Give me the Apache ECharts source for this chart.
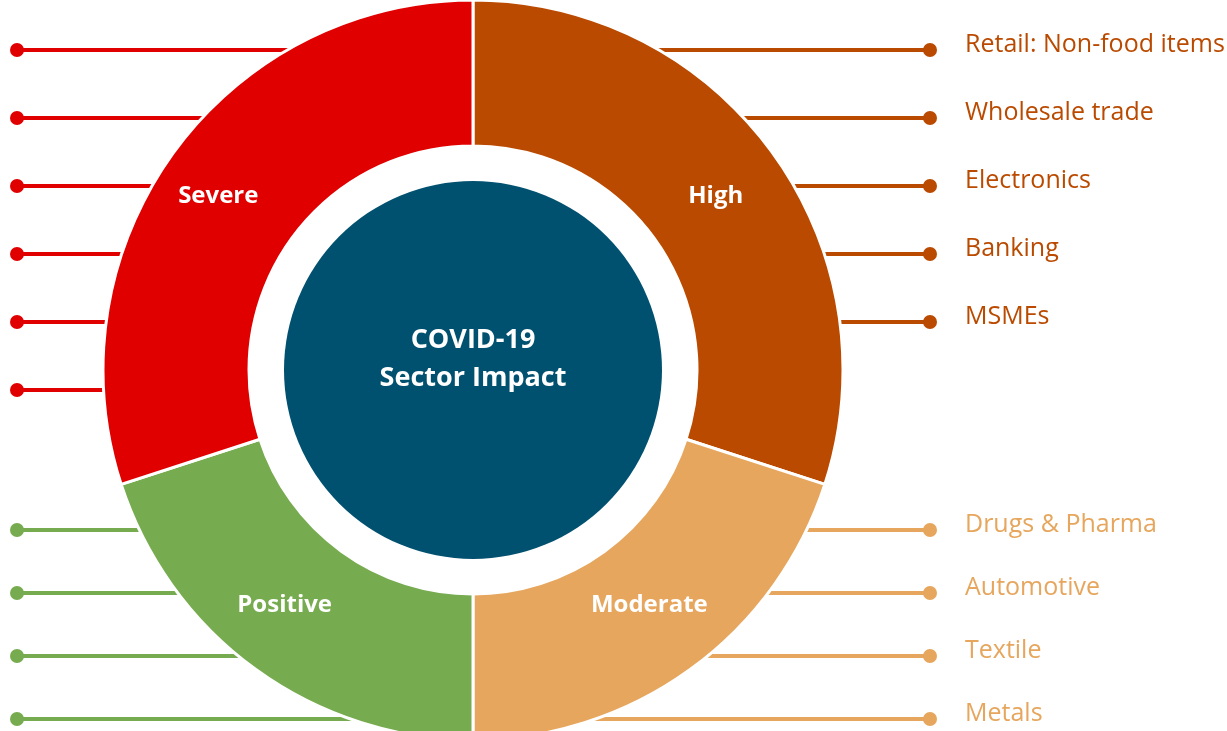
<!DOCTYPE html>
<html>
<head>
<meta charset="utf-8">
<script src="https://cdn.jsdelivr.net/npm/echarts@6/dist/echarts.min.js"></script>
<style>
html, body { margin: 0; padding: 0; background: #ffffff; }
#main { width: 1227px; height: 731px; }
</style>
</head>
<body>
<div id="main"></div>
<script>
// ---- data ----
const impactLevels = ['High', 'Moderate', 'Positive', 'Severe'];   // clockwise from 12 o'clock
const impactShare = [30, 20, 20, 30];                               // share of the ring
const highSectors = ['Retail: Non-food items', 'Wholesale trade', 'Electronics', 'Banking', 'MSMEs'];
const moderateSectors = ['Drugs & Pharma', 'Automotive', 'Textile', 'Metals'];
const severeSectors = ['', '', '', '', '', ''];   // six leaders, unlabeled in the source
const positiveSectors = ['', '', '', ''];         // four leaders, unlabeled in the source
const centerTitle = ['COVID-19', 'Sector Impact'];

// ---- style ----
const colors = { Severe: '#E00000', High: '#BA4A00', Moderate: '#E6A65D', Positive: '#77AB4F' };
const teal = '#00506F';
const FONT = 'Open Sans';
const CENTER = [473, 370];

const topRows = Math.max(severeSectors.length, highSectors.length);
const bottomRows = Math.max(positiveSectors.length, moderateSectors.length);
const rowNames = n => Array.from({ length: n }, (_, i) => String(i));

function leaderBar(list, side, color, grid) {
  return {
    type: 'bar', xAxisIndex: grid, yAxisIndex: grid, z: 1, silent: true,
    barWidth: 4, barGap: '-100%',
    itemStyle: { color: color },
    data: list.map(() => side)
  };
}
function leaderDot(list, side, color, grid, labelled) {
  return {
    type: 'scatter', xAxisIndex: grid, yAxisIndex: grid, z: 1, silent: true,
    symbol: 'circle', symbolSize: 14,
    itemStyle: { color: color, opacity: 1 },
    label: {
      show: labelled, position: 'right', distance: 28, offset: [0, -5],
      formatter: p => list[p.dataIndex],
      color: color, fontFamily: FONT, fontSize: 25
    },
    data: list.map((s, i) => [side, i])
  };
}

const chart = echarts.init(document.getElementById('main'), null, { renderer: 'canvas' });
chart.setOption({
  animation: false,
  backgroundColor: '#ffffff',
  grid: [
    { left: 17, right: 297, top: 50, height: 340 },
    { left: 17, right: 297, top: 530, height: 189 }
  ],
  xAxis: [
    { type: 'value', gridIndex: 0, min: -1, max: 1, show: false },
    { type: 'value', gridIndex: 1, min: -1, max: 1, show: false }
  ],
  yAxis: [
    { type: 'category', gridIndex: 0, data: rowNames(topRows), inverse: true, boundaryGap: false, show: false },
    { type: 'category', gridIndex: 1, data: rowNames(bottomRows), inverse: true, boundaryGap: false, show: false }
  ],
  series: [
    leaderBar(severeSectors, -1, colors.Severe, 0),
    leaderBar(highSectors, 1, colors.High, 0),
    leaderBar(positiveSectors, -1, colors.Positive, 1),
    leaderBar(moderateSectors, 1, colors.Moderate, 1),
    leaderDot(severeSectors, -1, colors.Severe, 0, false),
    leaderDot(highSectors, 1, colors.High, 0, true),
    leaderDot(positiveSectors, -1, colors.Positive, 1, false),
    leaderDot(moderateSectors, 1, colors.Moderate, 1, true),
    {
      type: 'pie', center: CENTER, radius: [0, 224], z: 3, silent: true,
      label: { show: false }, labelLine: { show: false },
      data: [{ value: 1, name: 'gap', itemStyle: { color: '#ffffff' } }]
    },
    {
      type: 'pie', center: CENTER, radius: [224, 370], z: 4, silent: true,
      startAngle: 90, clockwise: true,
      itemStyle: { borderColor: '#ffffff', borderWidth: 3 },
      label: {
        show: true, position: 'inside', formatter: '{b}',
        color: '#ffffff', fontFamily: FONT, fontSize: 24, fontWeight: 'bold'
      },
      labelLayout: p => ({ dx: p.dataIndex >= 2 ? -12 : 0, dy: p.dataIndex === 1 || p.dataIndex === 2 ? -8 : 2 }),
      labelLine: { show: false },
      data: impactLevels.map((n, i) => ({ name: n, value: impactShare[i], itemStyle: { color: colors[n] } }))
    },
    {
      type: 'pie', center: CENTER, radius: [0, 189], z: 5, silent: true,
      label: {
        show: true, position: 'center', formatter: centerTitle.join('\n'),
        color: '#ffffff', fontFamily: FONT, fontSize: 27, fontWeight: 'bold',
        lineHeight: 38
      },
      labelLayout: { dy: -11 },
      labelLine: { show: false },
      data: [{ value: 1, name: centerTitle.join(' '), itemStyle: { color: teal } }]
    }
  ]
});
</script>
</body>
</html>
